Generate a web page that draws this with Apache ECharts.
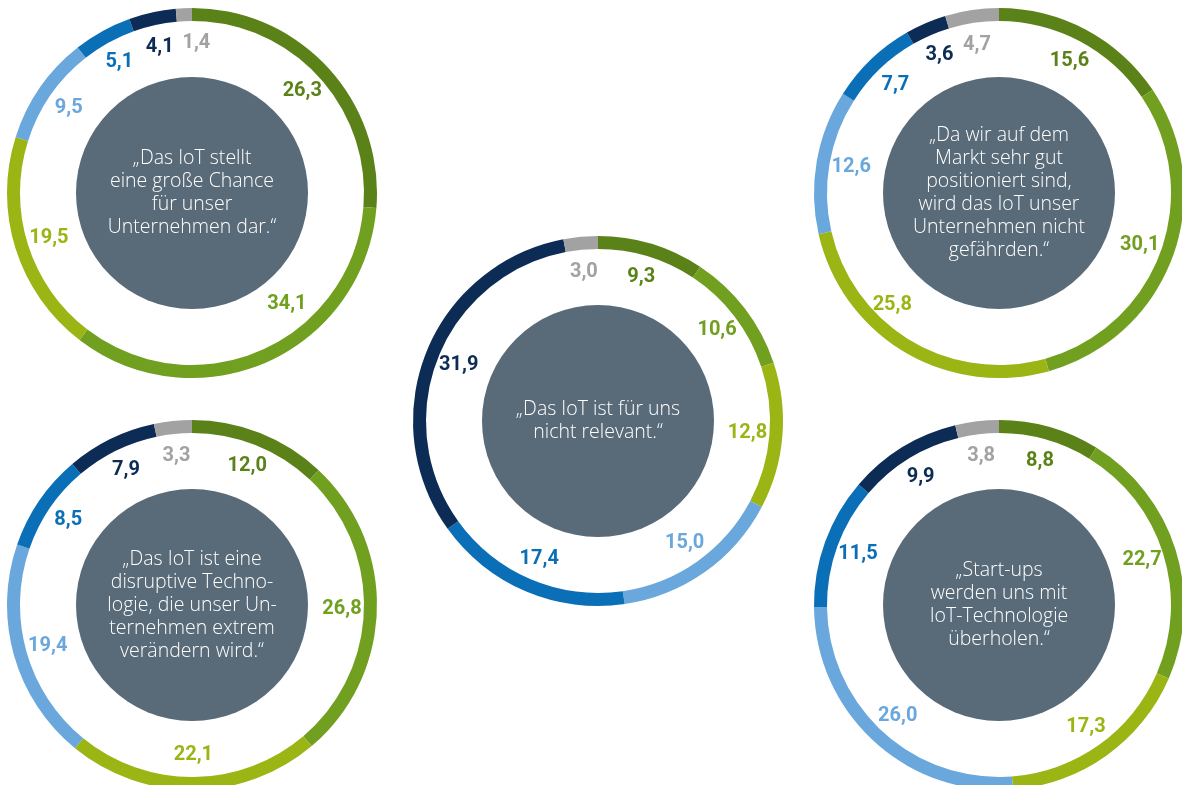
<!DOCTYPE html>
<html>
<head>
<meta charset="utf-8">
<script src="https://cdn.jsdelivr.net/npm/echarts@6/dist/echarts.min.js"></script>
<style>
html,body{margin:0;padding:0;background:#fff;}
#chart{width:1182px;height:785px;}
</style>
</head>
<body>
<div id="chart"></div>
<script>
// Answer categories (clockwise from top), values in percent
const categories = ['Stimme voll zu', 'Stimme zu', 'Stimme eher zu', 'Stimme eher nicht zu', 'Stimme nicht zu', 'Stimme gar nicht zu', 'Keine Angabe'];

const valuesChance     = [26.3, 34.1, 19.5, 9.5, 5.1, 4.1, 1.4];
const valuesIrrelevant = [9.3, 10.6, 12.8, 15.0, 17.4, 31.9, 3.0];
const valuesPosition   = [15.6, 30.1, 25.8, 12.6, 7.7, 3.6, 4.7];
const valuesDisruptive = [12.0, 26.8, 22.1, 19.4, 8.5, 7.9, 3.3];
const valuesStartups   = [8.8, 22.7, 17.3, 26.0, 11.5, 9.9, 3.8];

const quoteChance     = '„Das IoT stellt\neine große Chance\nfür unser\nUnternehmen dar.“';
const quoteIrrelevant = '„Das IoT ist für uns\nnicht relevant.“';
const quotePosition   = '„Da wir auf dem\nMarkt sehr gut\npositioniert sind,\nwird das IoT unser\nUnternehmen nicht\ngefährden.“';
const quoteDisruptive = '„Das IoT ist eine\ndisruptive Techno-\nlogie, die unser Un-\nternehmen extrem\nverändern wird.“';
const quoteStartups   = '„Start-ups\nwerden uns mit\nIoT-Technologie\nüberholen.“';

// styles
const colors = ['#5b8218', '#719f20', '#9bb515', '#6aa7dc', '#0b6fb7', '#0c2b55', '#a2a2a2'];
const discColor = '#596a78';

// layout (positions and label nudges, kept apart from data)
const charts = [
  {values: valuesChance,     quote: quoteChance,     center: [192, 193], nudge: {1: [34, -26], 6: [11, 0]}},
  {values: valuesIrrelevant, quote: quoteIrrelevant, center: [598, 421], nudge: {}},
  {values: valuesPosition,   quote: quotePosition,   center: [999, 193], nudge: {2: [-30, -17]}},
  {values: valuesDisruptive, quote: quoteDisruptive, center: [192, 605], nudge: {}},
  {values: valuesStartups,   quote: quoteStartups,   center: [999, 605], nudge: {}}
];

const fmt = v => v.toFixed(1).replace('.', ',');

const series = [];
charts.forEach(c => {
  // ring
  series.push({
    type: 'pie', center: c.center, radius: [172, 185],
    startAngle: 90, clockwise: true, silent: true, animation: false,
    label: {show: false}, labelLine: {show: false},
    itemStyle: {borderWidth: 0},
    data: c.values.map((v, i) => ({name: categories[i], value: v, itemStyle: {color: colors[i]}}))
  });
  // value labels
  series.push({
    type: 'pie', center: c.center, radius: [118, 176],
    startAngle: 90, clockwise: true, silent: true, animation: false,
    avoidLabelOverlap: false, minShowLabelAngle: 0,
    labelLayout: {hideOverlap: false},
    itemStyle: {color: 'rgba(0,0,0,0)', borderWidth: 0},
    label: {
      show: true, position: 'inside', overflow: 'none',
      formatter: p => fmt(p.value),
      fontFamily: 'Roboto', fontWeight: 'bold', fontSize: 20
    },
    labelLine: {show: false},
    data: c.values.map((v, i) => ({
      name: categories[i], value: v,
      itemStyle: {color: 'rgba(0,0,0,0)'},
      label: Object.assign({color: colors[i]}, c.nudge[i] ? {offset: c.nudge[i]} : {})
    }))
  });
  // center disc with quote
  series.push({
    type: 'pie', center: c.center, radius: [0, 116],
    silent: true, animation: false,
    itemStyle: {color: discColor},
    label: {
      show: true, position: 'center',
      formatter: () => c.quote,
      color: '#ffffff', fontFamily: 'Open Sans', fontWeight: 300,
      fontSize: 19.5, lineHeight: 23
    },
    labelLine: {show: false},
    data: [{name: 'quote', value: 1}]
  });
});

const chart = echarts.init(document.getElementById('chart'), null, {renderer: 'canvas'});
chart.setOption({
  backgroundColor: '#ffffff',
  animation: false,
  series: series
});
</script>
</body>
</html>
